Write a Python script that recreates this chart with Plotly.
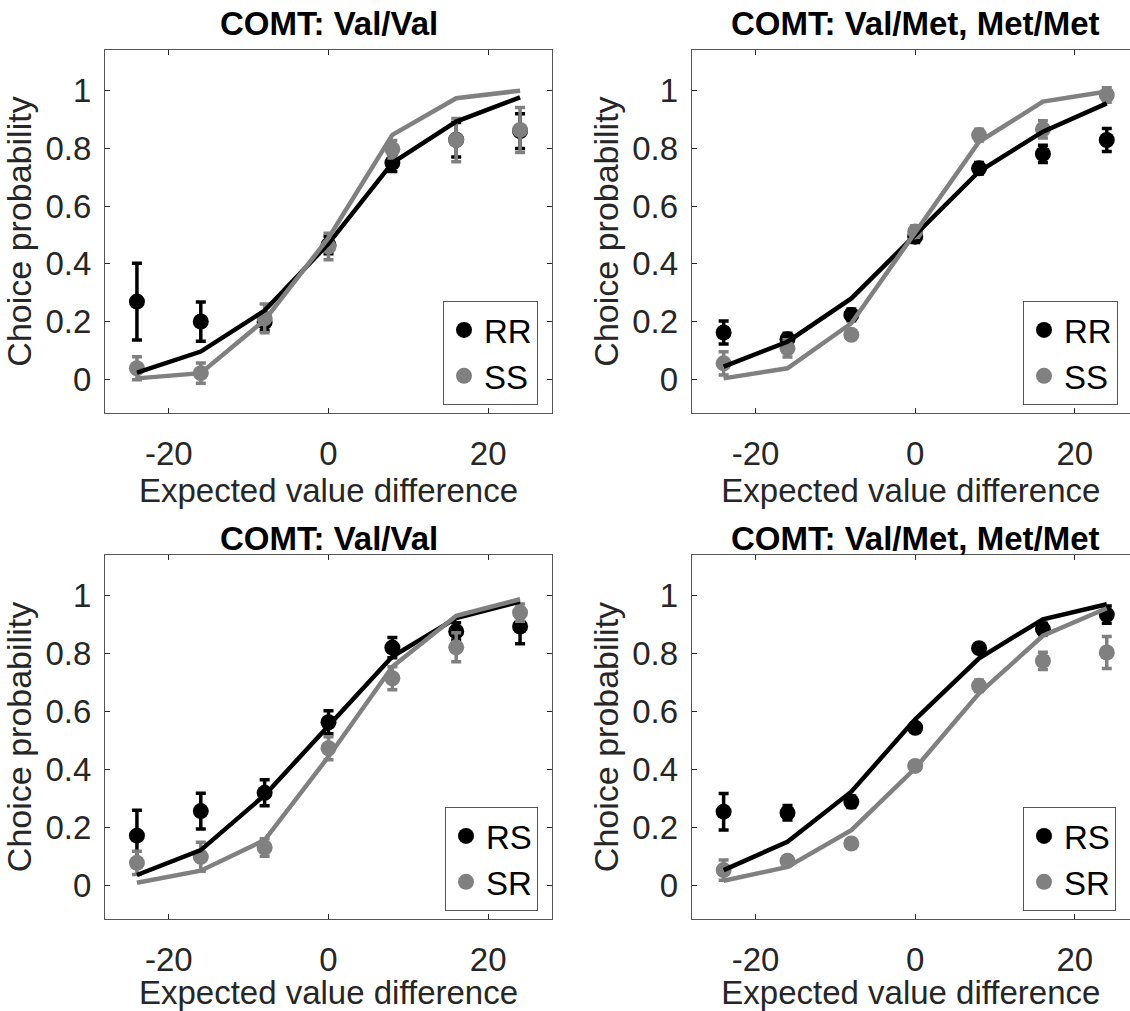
import plotly.graph_objects as go

# ---------------- data ----------------
ev = [-24, -16, -8, 0, 8, 16, 24]

titles = ["COMT: Val/Val", "COMT: Val/Met, Met/Met", "COMT: Val/Val", "COMT: Val/Met, Met/Met"]
names_a = ["RR", "RR", "RS", "RS"]
names_b = ["SS", "SS", "SR", "SR"]

# observed choice probabilities (series A = black, series B = gray)
obs_a_p1 = [0.269, 0.200, 0.198, 0.465, 0.750, 0.830, 0.860]
err_a_p1 = [0.133, 0.068, 0.030, 0.030, 0.030, 0.060, 0.060]
obs_b_p1 = [0.038, 0.021, 0.211, 0.460, 0.797, 0.829, 0.864]
err_b_p1 = [0.040, 0.035, 0.050, 0.046, 0.030, 0.075, 0.078]

obs_a_p2 = [0.162, 0.139, 0.223, 0.494, 0.731, 0.781, 0.829]
err_a_p2 = [0.040, 0.020, 0.020, 0.020, 0.020, 0.030, 0.040]
obs_b_p2 = [0.055, 0.107, 0.154, 0.512, 0.846, 0.866, 0.985]
err_b_p2 = [0.040, 0.030, 0.015, 0.020, 0.020, 0.030, 0.025]

obs_a_p3 = [0.171, 0.256, 0.319, 0.563, 0.821, 0.877, 0.894]
err_a_p3 = [0.088, 0.062, 0.045, 0.040, 0.035, 0.030, 0.060]
obs_b_p3 = [0.077, 0.098, 0.130, 0.473, 0.715, 0.822, 0.942]
err_b_p3 = [0.040, 0.050, 0.030, 0.040, 0.040, 0.050, 0.030]

obs_a_p4 = [0.254, 0.250, 0.288, 0.544, 0.819, 0.885, 0.935]
err_a_p4 = [0.063, 0.025, 0.020, 0.015, 0.015, 0.020, 0.030]
obs_b_p4 = [0.052, 0.084, 0.144, 0.412, 0.689, 0.775, 0.804]
err_b_p4 = [0.035, 0.015, 0.010, 0.010, 0.020, 0.030, 0.055]

# model fits
fit_a_p1 = [0.023, 0.096, 0.238, 0.470, 0.750, 0.893, 0.977]
fit_b_p1 = [0.003, 0.021, 0.205, 0.490, 0.847, 0.974, 1.000]
fit_a_p2 = [0.044, 0.130, 0.280, 0.500, 0.720, 0.858, 0.956]
fit_b_p2 = [0.003, 0.038, 0.194, 0.506, 0.823, 0.962, 0.997]
fit_a_p3 = [0.035, 0.121, 0.311, 0.548, 0.790, 0.923, 0.980]
fit_b_p3 = [0.008, 0.050, 0.156, 0.444, 0.755, 0.931, 0.988]
fit_a_p4 = [0.052, 0.150, 0.323, 0.573, 0.784, 0.919, 0.971]
fit_b_p4 = [0.015, 0.063, 0.190, 0.404, 0.663, 0.862, 0.957]

x_ticks = [-20, 0, 20]
x_tick_text = ["-20", "0", "20"]
y_ticks = [0, 0.2, 0.4, 0.6, 0.8, 1]
y_tick_text = ["0", "0.2", "0.4", "0.6", "0.8", "1"]

# ---------------- figure ----------------
W, H = 1130, 1011
BLACK = "#000000"
GRAY = "#808080"
FONT = "Liberation Sans, Arial, Helvetica, sans-serif"

panels = [
    (obs_a_p1, err_a_p1, obs_b_p1, err_b_p1, fit_a_p1, fit_b_p1),
    (obs_a_p2, err_a_p2, obs_b_p2, err_b_p2, fit_a_p2, fit_b_p2),
    (obs_a_p3, err_a_p3, obs_b_p3, err_b_p3, fit_a_p3, fit_b_p3),
    (obs_a_p4, err_a_p4, obs_b_p4, err_b_p4, fit_a_p4, fit_b_p4),
]

# pixel layout of the axes boxes
left_dom = [105 / W, 552 / W]
right_dom = [691.7 / W, 1.0]
top_dom = [(H - 413) / H, (H - 50) / H]
bot_dom = [(H - 919) / H, (H - 555) / H]
px_per_unit = (552 - 105) / 56.0
right_xmax = -28 + (W - 691.7) / px_per_unit

xdoms = [left_dom, right_dom, left_dom, right_dom]
ydoms = [top_dom, top_dom, bot_dom, bot_dom]
xranges = [[-28, 28], [-28, right_xmax], [-28, 28], [-28, right_xmax]]
yrange = [-0.117, 1.141]

fig = go.Figure()
layout = {}
annotations = []

legend_pos = [
    (538 / W, (H - 405) / H, "right"),
    (1023 / W, (H - 405) / H, "left"),
    (538 / W, (H - 911) / H, "right"),
    (1023 / W, (H - 911) / H, "left"),
]

for i, (oa, ea, ob, eb, fa, fb) in enumerate(panels):
    n = i + 1
    xa = "x" if n == 1 else f"x{n}"
    ya = "y" if n == 1 else f"y{n}"
    lg = "legend" if n == 1 else f"legend{n}"

    fig.add_trace(go.Scatter(
        x=ev, y=oa, mode="markers", name=names_a[i], xaxis=xa, yaxis=ya, legend=lg,
        marker=dict(color=BLACK, size=16),
        error_y=dict(type="data", array=ea, color=BLACK, thickness=3.5, width=5),
    ))
    fig.add_trace(go.Scatter(
        x=ev, y=ob, mode="markers", name=names_b[i], xaxis=xa, yaxis=ya, legend=lg,
        marker=dict(color=GRAY, size=16),
        error_y=dict(type="data", array=eb, color=GRAY, thickness=3.5, width=5),
    ))
    fig.add_trace(go.Scatter(
        x=ev, y=fa, mode="lines", showlegend=False, xaxis=xa, yaxis=ya,
        line=dict(color=BLACK, width=4.5),
    ))
    fig.add_trace(go.Scatter(
        x=ev, y=fb, mode="lines", showlegend=False, xaxis=xa, yaxis=ya,
        line=dict(color=GRAY, width=4.5),
    ))

    right_panel = n in (2, 4)
    xkey = "xaxis" if n == 1 else f"xaxis{n}"
    ykey = "yaxis" if n == 1 else f"yaxis{n}"
    layout[xkey] = dict(
        domain=xdoms[i], range=xranges[i], anchor=ya,
        tickvals=x_ticks, ticktext=x_tick_text, ticks="inside", ticklen=5, tickcolor="#262626",
        showline=True, linecolor="#555555", linewidth=1, mirror="ticks",
        showgrid=False, zeroline=False,
        tickfont=dict(size=33, color="#262626", family=FONT),
        ticklabelstandoff=11,
        title=dict(text="Expected value difference", font=dict(size=33, color="#262626", family=FONT), standoff=7),
    )
    layout[ykey] = dict(
        domain=ydoms[i], range=yrange, anchor=xa,
        tickvals=y_ticks, ticktext=y_tick_text, ticks="inside", ticklen=5, tickcolor="#262626",
        showline=True, linecolor="#555555", linewidth=1,
        mirror=False if right_panel else "ticks",
        showgrid=False, zeroline=False,
        tickfont=dict(size=33, color="#262626", family=FONT),
        ticklabelstandoff=6,
        title=dict(text="Choice probability", font=dict(size=34, color="#262626", family=FONT), standoff=3),
    )
    lx, ly, anchor = legend_pos[i]
    layout[lg] = dict(
        x=lx, y=ly, xanchor=anchor, yanchor="bottom", xref="paper", yref="paper",
        bgcolor="white", bordercolor="#555555", borderwidth=1,
        font=dict(size=33, color="black", family=FONT),
        tracegroupgap=0, itemwidth=30,
    )
    title_y = (H - 23) / H if n <= 2 else (H - 538) / H
    annotations.append(dict(
        text=f"<b>{titles[i]}</b>", x=0, xref=xa, y=title_y, yref="paper",
        xanchor="center", yanchor="middle", showarrow=False,
        font=dict(size=33, color="black", family=FONT),
    ))

fig.update_layout(
    width=W, height=H,
    margin=dict(l=0, r=0, t=0, b=0),
    paper_bgcolor="white", plot_bgcolor="white",
    font=dict(family=FONT),
    annotations=annotations,
    **layout,
)

fig.write_html("out.html")
